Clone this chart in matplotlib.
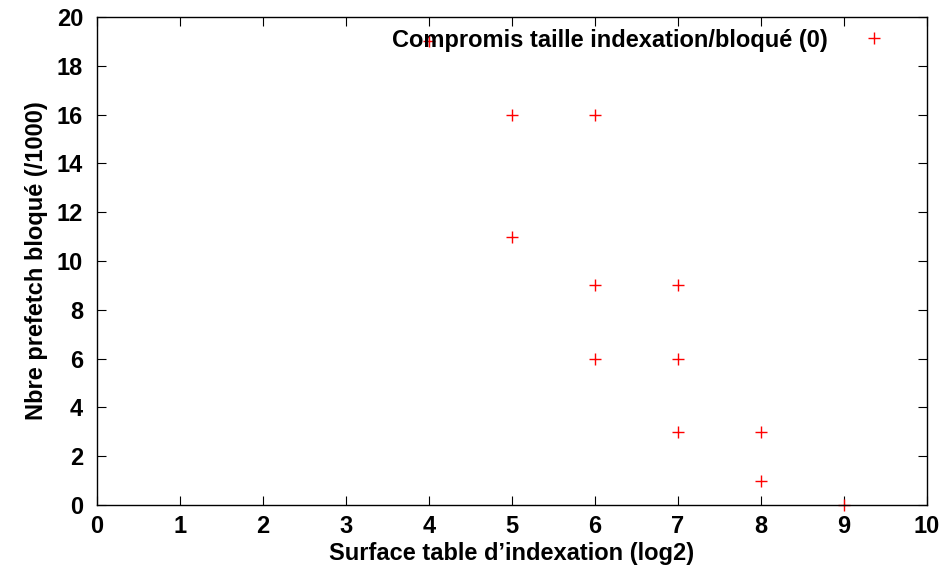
import matplotlib
matplotlib.use("Agg")
import matplotlib.pyplot as plt

plt.rcParams['font.family'] = ['Liberation Sans', 'DejaVu Sans']
plt.rcParams['font.weight'] = 'bold'

# data
taille = [4, 5, 6, 5, 6, 7, 6, 7, 7, 8, 8, 9]
bloque = [19, 16, 16, 11, 9, 9, 6, 6, 3, 3, 1, 0]
x_ticks = list(range(0, 11))
y_ticks = list(range(0, 21, 2))

fig = plt.figure(figsize=(9.41, 5.71), dpi=100)
ax = fig.add_axes([0.1031, 0.1156, 0.882, 0.8546])

ax.plot(taille, bloque, linestyle='none', marker='+', color='red',
        markersize=9, markeredgewidth=1.0, clip_on=False,
        label='Compromis taille indexation/bloqué (0)')

ax.set_xlim(0, 10)
ax.set_ylim(0, 20)
ax.set_xticks(x_ticks)
ax.set_yticks(y_ticks)
ax.tick_params(direction='in', length=6.5, width=0.8, top=True, right=True,
               labelsize=17)
ax.tick_params(axis='x', pad=7)
ax.tick_params(axis='y', pad=10)
for lab in ax.get_xticklabels() + ax.get_yticklabels():
    lab.set_fontweight('bold')
for s in ax.spines.values():
    s.set_linewidth(1.0)

ax.set_xlabel('Surface table d\u2019indexation (log2)', fontsize=17,
              fontweight='bold', labelpad=3)
ax.set_ylabel('Nbre prefetch bloqué (/1000)', fontsize=17,
              fontweight='bold', labelpad=6)

leg = ax.legend(loc='upper right', bbox_to_anchor=(0.979, 1.01),
                markerfirst=False, frameon=False, fontsize=17,
                handlelength=1.6, handletextpad=1.15, borderaxespad=0.3)
for t in leg.get_texts():
    t.set_fontweight('bold')
leg.set_zorder(5)

fig.savefig('out.png', dpi=100)
